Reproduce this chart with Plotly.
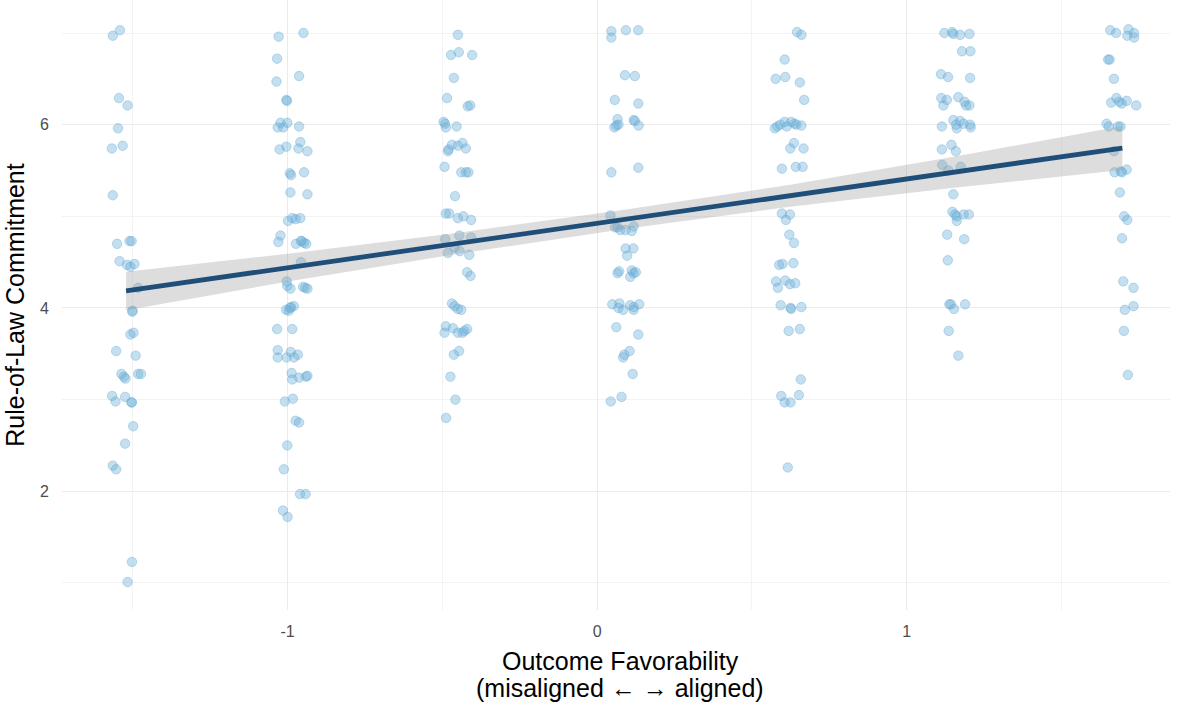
import plotly.graph_objects as go

# Column (unjittered) positions of outcome favorability
col_x = [-1.522, -0.985, -0.449, 0.088, 0.624, 1.161, 1.697]

# Per-column horizontal jitter offsets and rule-of-law commitment values
c1_dx = [-0.043, -0.020, -0.023, 0.005, -0.026, -0.046, -0.011, -0.043, -0.029, 0.011, 0.018, -0.021, 0.003, 0.014,
         0.027, 0.039, 0.021, 0.020, 0.014, 0.024, -0.032, 0.031, -0.015, -0.007, -0.002, 0.039, 0.048, -0.045,
         -0.034, -0.003, 0.017, 0.019, 0.023, -0.003, -0.043, -0.032, 0.019, 0.005]
c1_y = [6.97, 7.03, 6.29, 6.21, 5.96, 5.74, 5.77, 5.23, 4.70, 4.73, 4.73, 4.51, 4.47, 4.45,
        4.48, 4.22, 3.97, 3.96, 3.71, 3.73, 3.53, 3.48, 3.28, 3.25, 3.23, 3.28, 3.28, 3.04,
        2.98, 3.03, 2.97, 2.97, 2.71, 2.52, 2.28, 2.24, 1.23, 1.01]

c2_dx = [-0.044, 0.036, -0.049, 0.022, -0.051, -0.019, -0.017, -0.047, -0.038, -0.029, -0.016, 0.022,
         -0.041, -0.019, 0.020, 0.026, 0.049, -0.008, -0.004, 0.038, -0.006, 0.049, -0.014, 0.000, 0.011,
         0.026, -0.038, -0.045, 0.012, 0.031, 0.038, 0.045, 0.028, 0.028, -0.018, -0.016, -0.006, 0.035,
         0.042, 0.049, -0.020, -0.011, -0.004, 0.005, -0.007, -0.049, 0.000, -0.047, -0.047, -0.018,
         -0.005, 0.006, 0.018, -0.002, 0.000, 0.022, 0.044, 0.049, -0.024, 0.002, 0.011, 0.022, -0.016,
         -0.027, 0.025, 0.043, -0.030, -0.015]
c2_y = [6.96, 7.00, 6.72, 6.53, 6.47, 6.27, 6.26, 5.97, 6.02, 5.97, 6.02, 5.98,
        5.73, 5.76, 5.74, 5.81, 5.71, 5.47, 5.45, 5.48, 5.26, 5.24, 4.95, 4.98, 4.97,
        4.98, 4.79, 4.72, 4.70, 4.73, 4.71, 4.70, 4.73, 4.50, 4.29, 4.24, 4.21, 4.23,
        4.22, 4.21, 3.98, 3.97, 4.01, 4.02, 4.00, 3.77, 3.77, 3.54, 3.46, 3.46,
        3.52, 3.46, 3.49, 3.29, 3.22, 3.24, 3.25, 3.26, 2.98, 3.01, 2.77, 2.75, 2.50,
        2.24, 1.97, 1.97, 1.79, 1.72]

c3_dx = [-0.001, -0.023, 0.002, 0.045, -0.014, -0.036, 0.031, 0.039, -0.047, -0.042, -0.040, -0.005,
         -0.020, -0.031, -0.033, -0.001, 0.014, 0.025, -0.044, 0.010, 0.025, 0.033, -0.010, -0.040,
         -0.029, -0.001, 0.017, 0.042, -0.042, 0.004, 0.042, -0.033, -0.012, 0.005, 0.036, 0.029, 0.040,
         -0.020, -0.012, -0.001, 0.010, -0.040, -0.044, -0.017, -0.001, 0.014, 0.020, 0.029, -0.014,
         0.003, -0.025, -0.009, -0.039]
c3_y = [6.98, 6.76, 6.79, 6.76, 6.51, 6.29, 6.20, 6.21, 6.03, 6.01, 5.97, 5.98,
        5.78, 5.73, 5.71, 5.77, 5.80, 5.74, 5.54, 5.48, 5.48, 5.48, 5.22, 5.03,
        5.03, 4.98, 5.00, 4.96, 4.75, 4.79, 4.77, 4.60, 4.66, 4.62, 4.58, 4.39, 4.35,
        4.05, 4.02, 3.99, 3.98, 3.80, 3.73, 3.78, 3.73, 3.73, 3.75, 3.77, 3.49,
        3.53, 3.25, 3.00, 2.80]

c4_dx = [-0.042, -0.042, 0.005, 0.045, 0.002, 0.034, -0.031, 0.045, -0.022, -0.032, -0.026, -0.019,
         0.030, 0.034, 0.046, -0.042, 0.045, -0.045, -0.030, -0.022, -0.013, 0.004, 0.024, 0.030,
         0.004, 0.029, 0.009, -0.022, -0.017, 0.019, 0.024, 0.030, 0.037, -0.039, -0.016, -0.019,
         -0.004, 0.019, 0.030, 0.030, 0.048, -0.026, 0.045, -0.004, 0.000, 0.017, 0.027, -0.044, -0.009]
c4_y = [7.02, 6.95, 7.03, 7.03, 6.54, 6.53, 6.27, 6.23, 6.06, 5.97, 5.99, 6.00,
        6.05, 6.04, 5.99, 5.48, 5.53, 5.01, 4.88, 4.88, 4.85, 4.85, 4.84, 4.89,
        4.65, 4.65, 4.57, 4.38, 4.40, 4.34, 4.41, 4.38, 4.39, 4.04, 4.05, 4.00,
        3.98, 4.03, 3.98, 4.01, 4.04, 3.79, 3.71, 3.46, 3.49, 3.53, 3.28, 2.98, 3.03]

c5_dx = [0.022, 0.036, -0.018, -0.047, -0.016, 0.031, 0.045, -0.050, -0.042, -0.032, -0.018, -0.011,
         0.003, 0.014, 0.020, 0.036, 0.012, 0.000, 0.043, -0.027, 0.018, 0.040, -0.027, -0.014,
         -0.001, -0.003, 0.012, -0.036, -0.025, 0.010, -0.046, -0.040, -0.016, -0.001, 0.016, -0.031,
         0.001, 0.003, 0.036, -0.005, 0.031, 0.034, -0.029, -0.018, 0.001, 0.028, -0.008]
c5_y = [7.01, 6.98, 6.71, 6.50, 6.52, 6.46, 6.27, 5.96, 5.98, 6.00, 6.03, 5.98,
        6.03, 6.01, 6.00, 5.99, 5.80, 5.74, 5.74, 5.52, 5.54, 5.54, 5.03, 4.96,
        5.02, 4.80, 4.71, 4.47, 4.48, 4.49, 4.29, 4.22, 4.30, 4.26, 4.27, 4.03,
        4.00, 3.99, 4.01, 3.75, 3.77, 3.22, 3.04, 2.97, 2.97, 3.05, 2.26]

c6_dx = [-0.039, -0.014, -0.010, 0.012, 0.042, 0.018, 0.045, -0.050, -0.027, 0.044, -0.049, -0.031,
         -0.042, 0.006, 0.026, 0.031, 0.042, -0.047, -0.010, 0.001, -0.001, 0.012, 0.023, 0.044,
         0.046, -0.047, -0.016, -0.002, -0.046, -0.026, 0.014, -0.010, -0.013, -0.005, 0.001, 0.001,
         0.023, 0.040, -0.030, 0.025, -0.028, -0.023, -0.018, -0.008, 0.028, -0.025, 0.006]
c6_y = [7.00, 7.01, 6.99, 6.98, 6.99, 6.80, 6.80, 6.55, 6.52, 6.51, 6.29, 6.27,
        6.21, 6.30, 6.25, 6.21, 6.21, 5.98, 6.05, 5.96, 6.00, 6.04, 6.01, 6.00,
        5.97, 5.73, 5.78, 5.71, 5.56, 5.50, 5.54, 5.24, 5.05, 5.02, 4.95, 5.00,
        5.02, 5.02, 4.80, 4.75, 4.52, 4.04, 4.04, 3.99, 4.04, 3.75, 3.48]

c7_dx = [-0.039, -0.020, 0.020, 0.016, 0.038, 0.038, -0.046, -0.041, -0.027, -0.036, -0.019, -0.010,
         -0.002, 0.014, 0.045, -0.051, -0.044, -0.014, -0.006, -0.027, -0.025, -0.005, -0.001, 0.014,
         -0.008, 0.006, 0.016, -0.001, 0.003, 0.036, 0.008, 0.036, 0.005, 0.018]
c7_y = [7.03, 7.00, 7.04, 6.97, 7.00, 6.95, 6.71, 6.71, 6.50, 6.24, 6.29, 6.25,
        6.23, 6.26, 6.21, 6.01, 5.98, 5.98, 5.98, 5.71, 5.48, 5.49, 5.48, 5.51,
        5.26, 5.00, 4.96, 4.76, 4.29, 4.22, 3.98, 4.02, 3.75, 3.27]

col_dx = [c1_dx, c2_dx, c3_dx, c4_dx, c5_dx, c6_dx, c7_dx]
col_y = [c1_y, c2_y, c3_y, c4_y, c5_y, c6_y, c7_y]

# Linear fit with 95% confidence band, read at the column positions
fit_y = [4.186, 4.446, 4.706, 4.966, 5.225, 5.485, 5.745]
fit_lo = [3.976, 4.296, 4.591, 4.861, 5.105, 5.315, 5.505]
fit_hi = [4.396, 4.596, 4.821, 5.071, 5.345, 5.655, 5.985]

x_title_lines = ["Outcome Favorability", "(misaligned ← → aligned)"]
y_title = "Rule-of-Law Commitment"

pts_x, pts_y = [], []
for bx, dxs, ys in zip(col_x, col_dx, col_y):
    for d, v in zip(dxs, ys):
        pts_x.append(bx + d)
        pts_y.append(v)

fig = go.Figure()
fig.add_trace(go.Scatter(
    x=pts_x, y=pts_y, mode="markers",
    marker=dict(size=9.5, color="rgba(107,174,214,0.40)",
                line=dict(width=1, color="rgba(90,160,205,0.35)")),
    hoverinfo="skip", showlegend=False))
fig.add_trace(go.Scatter(x=col_x, y=fit_lo, mode="lines", line=dict(width=0),
                         hoverinfo="skip", showlegend=False))
fig.add_trace(go.Scatter(x=col_x, y=fit_hi, mode="lines", line=dict(width=0),
                         fill="tonexty", fillcolor="rgba(153,153,153,0.33)",
                         hoverinfo="skip", showlegend=False))
fig.add_trace(go.Scatter(x=col_x, y=fit_y, mode="lines",
                         line=dict(width=4.8, color="#1F4E79"),
                         hoverinfo="skip", showlegend=False))

font_family = "Liberation Sans, Arial, sans-serif"
title_font = dict(family=font_family, size=25, color="black")
fig.update_layout(
    width=1186, height=704,
    margin=dict(l=62, r=16, t=0, b=94),
    paper_bgcolor="white", plot_bgcolor="white",
    font=dict(family=font_family, color="#4D4D4D"),
    xaxis=dict(range=[-1.729, 1.851], tickvals=[-1, 0, 1], ticktext=["-1", "0", "1"],
               showgrid=True, gridcolor="#EBEBEB", gridwidth=1.1, zeroline=False,
               showline=False, ticks="", tickfont=dict(size=16, color="#4D4D4D"),
               ticklabelstandoff=10, automargin=False,
               minor=dict(tickvals=[-1.5, -0.5, 0.5, 1.5], showgrid=True,
                          gridcolor="#F3F3F3", gridwidth=1)),
    yaxis=dict(range=[0.705, 7.36], tickvals=[2, 4, 6], ticktext=["2", "4", "6"],
               showgrid=True, gridcolor="#EBEBEB", gridwidth=1.1, zeroline=False,
               showline=False, ticks="", tickfont=dict(size=16, color="#4D4D4D"),
               ticklabelstandoff=12, automargin=False,
               minor=dict(tickvals=[1, 3, 5, 7], showgrid=True,
                          gridcolor="#F3F3F3", gridwidth=1),
               title=dict(text=y_title, font=title_font, standoff=8)),
)
for i, (txt, shift) in enumerate(zip(x_title_lines, [-51, -78])):
    fig.add_annotation(text=txt, xref="paper", yref="paper", x=0.5, y=0,
                       xanchor="center", yanchor="middle", yshift=shift, xshift=4,
                       showarrow=False, font=title_font)

fig.write_html("out.html", config={"displayModeBar": False},
               post_script="document.body.style.margin='0';")
